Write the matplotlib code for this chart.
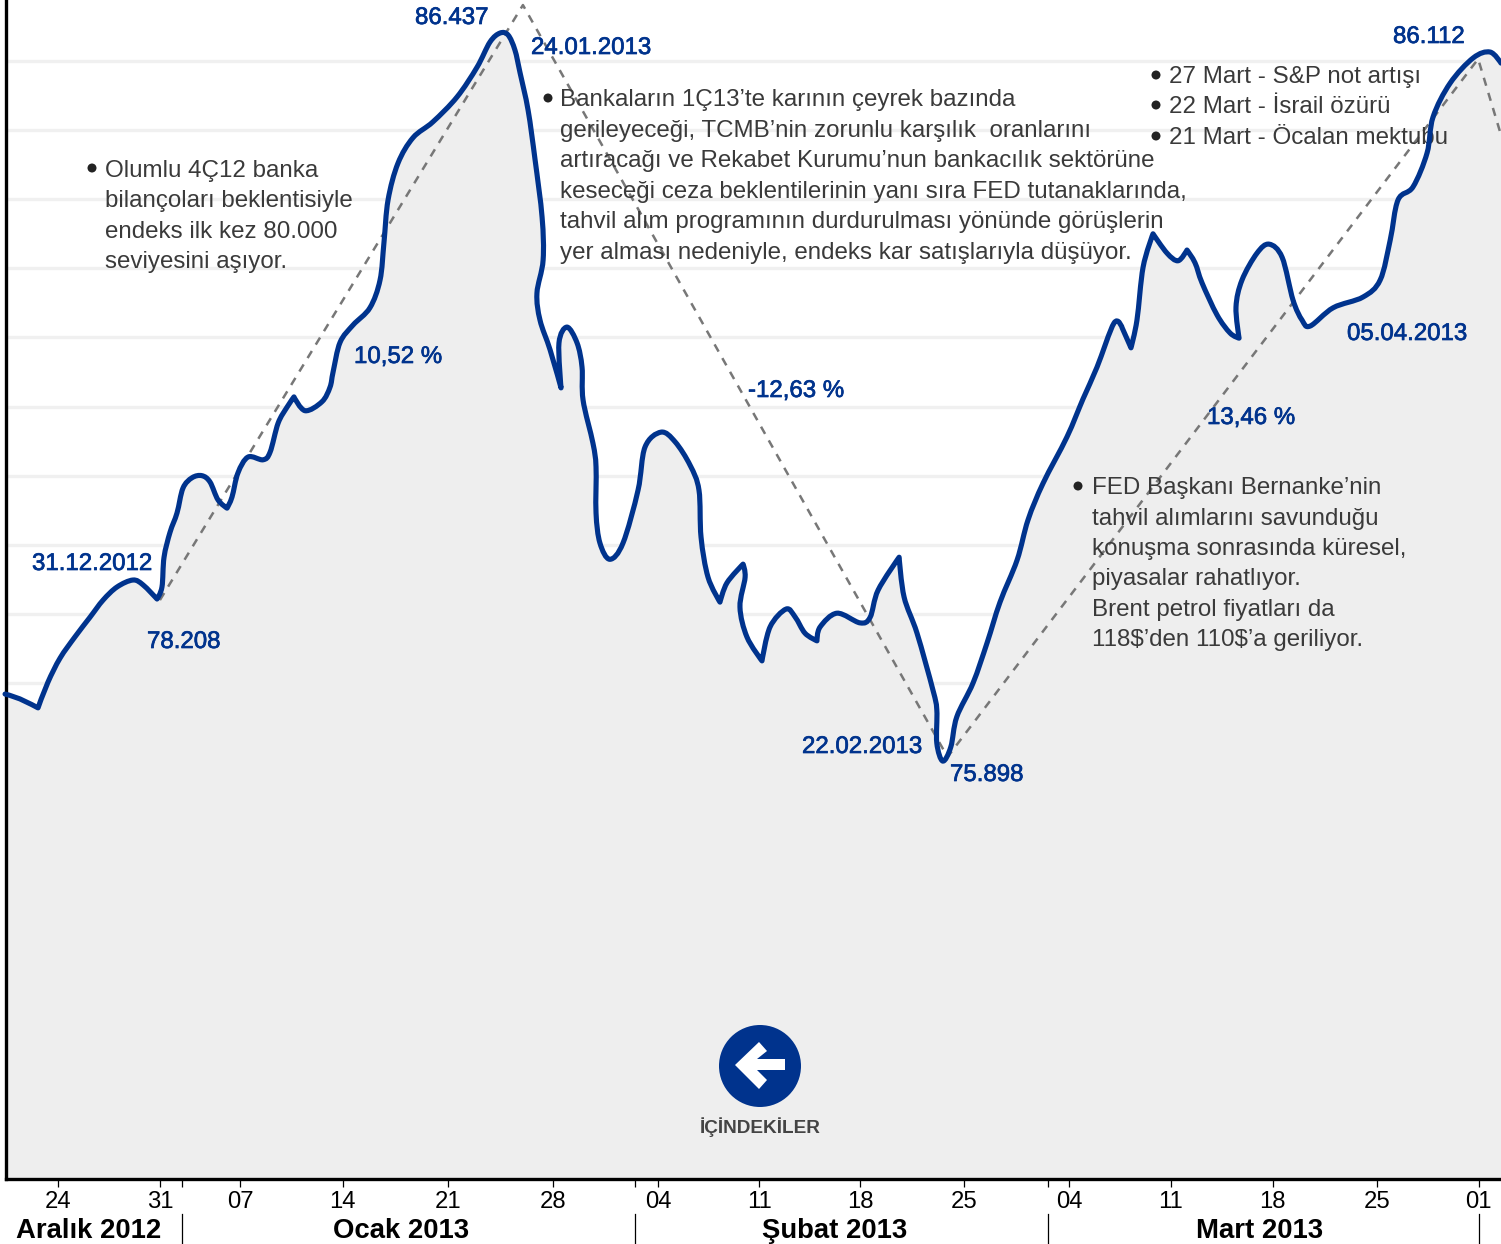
import matplotlib
matplotlib.use("Agg")
import matplotlib.pyplot as plt
import matplotlib.patheffects as pe
from matplotlib.patches import Ellipse, PathPatch, Polygon
from matplotlib.path import Path

plt.rcParams['font.family'] = ['Liberation Sans', 'DejaVu Sans']

W, H = 1501, 1244
NAVY = "#00338d"
TEXT = "#3a3a3a"

# x = trading session counted from 24 Dec 2012, y = index level
sessions = [
    -2.57, -1.85, -0.97, -0.49, 0.10, 0.83, 1.55, 2.19, 2.87, 3.64, 4.13, 4.81,
    5.05, 5.15, 5.44, 5.78, 6.07, 6.51, 6.99, 7.38, 7.77, 8.21, 8.45, 8.74,
    9.23, 9.96, 10.30, 10.69, 11.12, 11.46, 12.00, 12.82, 13.21, 13.36, 13.70,
    14.33, 15.15, 15.64, 15.83, 16.03, 16.51, 17.24, 18.21, 19.38, 20.35, 20.98,
    21.47, 21.86, 22.19, 22.44, 22.83, 23.17, 23.51, 23.56, 23.26, 23.41, 23.90,
    24.43, 24.33, 24.72, 25.21, 25.45, 25.50, 25.98, 26.13, 26.13, 26.32, 26.80,
    27.44, 28.17, 28.51, 29.29, 29.97, 30.70, 31.13, 31.23, 31.57, 32.15, 32.49,
    33.27, 33.37, 33.12, 33.46, 34.19, 34.58, 35.36, 35.80, 36.28, 36.86, 37.01,
    37.83, 38.95, 39.44, 39.83, 40.85, 41.09, 41.72, 42.49, 42.68, 42.68, 42.97,
    43.36, 43.65, 44.44, 45.12, 45.75, 46.58, 47.11, 47.84, 49.00, 49.78, 50.46,
    51.29, 51.68, 52.11, 52.40, 52.70, 53.18, 53.86, 54.40, 54.83, 55.22, 55.56,
    56.29, 56.92, 57.36, 57.21, 57.50, 58.23, 58.82, 59.45, 59.98, 60.42, 60.81,
    61.93, 63.38, 64.21, 64.70, 65.08, 65.81, 66.49, 66.78, 67.61, 68.73, 69.55,
    70.08,
]
index_values = [
    76840, 76770, 76640, 77010, 77360, 77670, 77950, 78200, 78390, 78490, 78420, 78215,
    78390, 78820, 79180, 79460, 79820, 79970, 80000, 79910, 79650, 79530, 79690, 80040,
    80270, 80230, 80340, 80760, 80990, 81140, 80940, 81070, 81280, 81500, 81930,
    82180, 82430, 82830, 83370, 83990, 84520, 84890, 85120, 85480, 85910, 86275,
    86405, 86376, 86160, 85830, 85290, 84570, 83740, 83120, 82640, 82250, 81820,
    81270, 81920, 82150, 81920, 81570, 81095, 80470, 80125, 79460, 79025, 78790,
    79025, 79790, 80415, 80630, 80490, 80150, 79790, 79110, 78530, 78170, 78450,
    78720, 78530, 78100, 77665, 77320, 77810, 78070, 77955, 77720, 77610, 77810,
    78010, 77870, 77950, 78345, 78820, 78245, 77720, 76900, 76610, 76130, 75870,
    76075, 76510, 77000, 77580, 78170, 78780, 79360, 79890, 80560, 81110, 81570,
    82210, 82140, 81850, 82250, 83020, 83500, 83220, 83110, 83265, 83080, 82790,
    82325, 82065, 81990, 82440, 82830, 83220, 83350, 83160, 82540, 82250, 82165,
    82430, 82585, 82830, 83410, 83990, 84180, 84670, 85190, 85680, 86045, 86130,
    85970,
]
# sharp turns in the line
corner_sessions = [-0.97, 4.81, 8.21, 11.46, 24.43, 32.15, 33.27, 34.19, 36.86, 40.85,
                   51.68, 52.11, 53.18, 54.83, 57.36]

trend_sessions = [4.95, 22.58, 43.2, 68.97, 70.08]
trend_values = [78200, 86810, 75930, 86030, 84930]

grid_levels = [77000, 78000, 79000, 80000, 81000, 82000, 83000, 84000, 85000, 86000]

tick_sessions = [0, 4.95, 8.84, 13.82, 18.94, 24.04, 29.14, 34.05, 38.97, 44.0, 49.1,
                 54.04, 59.0, 64.06, 69.0]
tick_labels = ["24", "31", "07", "14", "21", "28", "04", "11", "18", "25",
               "04", "11", "18", "25", "01"]
month_starts = [6, 28, 48.08, 69]
month_names = ["Aralık 2012", "Ocak 2013", "Şubat 2013", "Mart 2013"]
month_centers = [89, 401, 835, 1260]

# (text, left x, baseline y) in picture pixels
value_labels = [
    ("86.437", 415, 24), ("24.01.2013", 531, 54), ("10,52 %", 354, 363),
    ("31.12.2012", 32, 570), ("78.208", 147, 648), ("-12,63 %", 748, 397),
    ("22.02.2013", 802, 753), ("75.898", 950, 781), ("13,46 %", 1207, 424),
    ("05.04.2013", 1347, 340), ("86.112", 1393, 43),
]
notes = [
    (105, [177, 207, 238, 268], ["Olumlu 4Ç12 banka", "bilançoları beklentisiyle",
                                 "endeks ilk kez 80.000", "seviyesini aşıyor."]),
    (560, [106, 137, 167, 198, 228, 259],
     ["Bankaların 1Ç13’te karının çeyrek bazında",
      "gerileyeceği, TCMB’nin zorunlu karşılık  oranlarını",
      "artıracağı ve Rekabet Kurumu’nun bankacılık sektörüne",
      "keseceği ceza beklentilerinin yanı sıra FED tutanaklarında,",
      "tahvil alım programının durdurulması yönünde görüşlerin",
      "yer alması nedeniyle, endeks kar satışlarıyla düşüyor."]),
    (1169, [83, 113, 144], ["27 Mart - S&P not artışı", "22 Mart - İsrail özürü",
                            "21 Mart - Öcalan mektubu"]),
    (1092, [494, 525, 555, 585, 616, 646],
     ["FED Başkanı Bernanke’nin", "tahvil alımlarını savunduğu",
      "konuşma sonrasında küresel,", "piyasalar rahatlıyor.",
      "Brent petrol fiyatları da", r"118\$’den 110\$’a geriliyor."]),
]
bullets = [(92, 168), (548, 98), (1156, 75), (1156, 105), (1156, 136), (1078, 486)]


def pos(x, y):
    return x / W, 1 - y / H


def smooth_path(xs, ys, corners):
    # cubic segments through the read points, no tangent at sharp turns
    n = len(xs)
    tx, ty = [], []
    for i in range(n):
        if xs[i] in corners or i == 0 or i == n - 1:
            tx.append(0)
            ty.append(0)
        else:
            tx.append((xs[i + 1] - xs[i - 1]) / 6)
            ty.append((ys[i + 1] - ys[i - 1]) / 6)
    verts = [(xs[0], ys[0])]
    codes = [Path.MOVETO]
    for i in range(n - 1):
        verts += [(xs[i] + tx[i], ys[i] + ty[i]),
                  (xs[i + 1] - tx[i + 1], ys[i + 1] - ty[i + 1]),
                  (xs[i + 1], ys[i + 1])]
        codes += [Path.CURVE4] * 3
    return verts, codes


fig = plt.figure(figsize=(W / 100, H / 100), dpi=100, facecolor="white")
ax = fig.add_axes([6 / W, (H - 1179) / H, (W - 6) / W, 1179 / H])
ax.set_xlim(-2.525, 70.08)
ax.set_ylim(69823, 86883)

for level in grid_levels:
    ax.axhline(level, color="#f0f0f0", lw=2.4, zorder=1)

verts, codes = smooth_path(sessions, index_values, corner_sessions)
fill_verts = verts + [(sessions[-1], 69823), (sessions[0], 69823), verts[0]]
fill_codes = codes + [Path.LINETO, Path.LINETO, Path.CLOSEPOLY]
ax.add_patch(PathPatch(Path(fill_verts, fill_codes), facecolor="#eeeeee", lw=0, zorder=1.5))

ax.plot(trend_sessions, trend_values, color="#777777", lw=1.8,
        dashes=(3.3, 3.0), zorder=2)
ax.add_patch(PathPatch(Path(verts, codes), facecolor="none", edgecolor=NAVY, lw=3.7,
                       joinstyle="round", capstyle="round", zorder=3, clip_on=False))

for side in ["top", "right"]:
    ax.spines[side].set_visible(False)
for side in ["left", "bottom"]:
    ax.spines[side].set_linewidth(2.4)
    ax.spines[side].set_color("black")
ax.set_yticks([])
ax.set_xticks(tick_sessions)
ax.set_xticklabels(tick_labels, fontsize=17.2, color="black")
ax.set_xticks(month_starts, minor=True)
ax.tick_params(axis="x", which="both", length=5.5, width=0.9, color="black", pad=3.5)

for name, cx in zip(month_names, month_centers):
    x, y = pos(cx, 1238)
    ax.text(x, y, name, transform=fig.transFigure, ha="center", va="baseline",
            fontsize=19.8, fontweight="bold", color="black", clip_on=False)
for start in month_starts:
    ax.plot([start, start], [-0.0297, -0.0551], color="black", lw=0.9,
            transform=ax.get_xaxis_transform(), clip_on=False)

for left, baselines, lines in notes:
    for base, line in zip(baselines, lines):
        x, y = pos(left, base)
        ax.text(x, y, line, transform=fig.transFigure, va="baseline", fontsize=17.4,
                color=TEXT, zorder=2.5)
for bx, by in bullets:
    x, y = pos(bx, by)
    ax.add_patch(Ellipse((x, y), 9 / W, 9 / H, transform=fig.transFigure,
                         color="#222222", lw=0, zorder=2.5))

for label, left, base in value_labels:
    x, y = pos(left, base)
    ax.text(x, y, label, transform=fig.transFigure, va="baseline", fontsize=17.3,
            color=NAVY, zorder=4,
            path_effects=[pe.withStroke(linewidth=0.5, foreground=NAVY)])

# back button
x, y = pos(760, 1066)
ax.add_patch(Ellipse((x, y), 82 / W, 82 / H, transform=fig.transFigure, color=NAVY,
                     lw=0, zorder=4))
arrow = [(735, 1065), (759, 1042), (767, 1051), (757, 1059), (785, 1059), (785, 1070),
         (757, 1070), (767, 1080), (759, 1089)]
ax.add_patch(Polygon([pos(*p) for p in arrow], closed=True, transform=fig.transFigure,
                     color="white", lw=0, zorder=5))
x, y = pos(760, 1133)
ax.text(x, y, "İÇİNDEKİLER", transform=fig.transFigure, ha="center", va="baseline",
        fontsize=13.7, fontweight="bold", color="#444444", zorder=4)

fig.savefig("out.png", dpi=100)
